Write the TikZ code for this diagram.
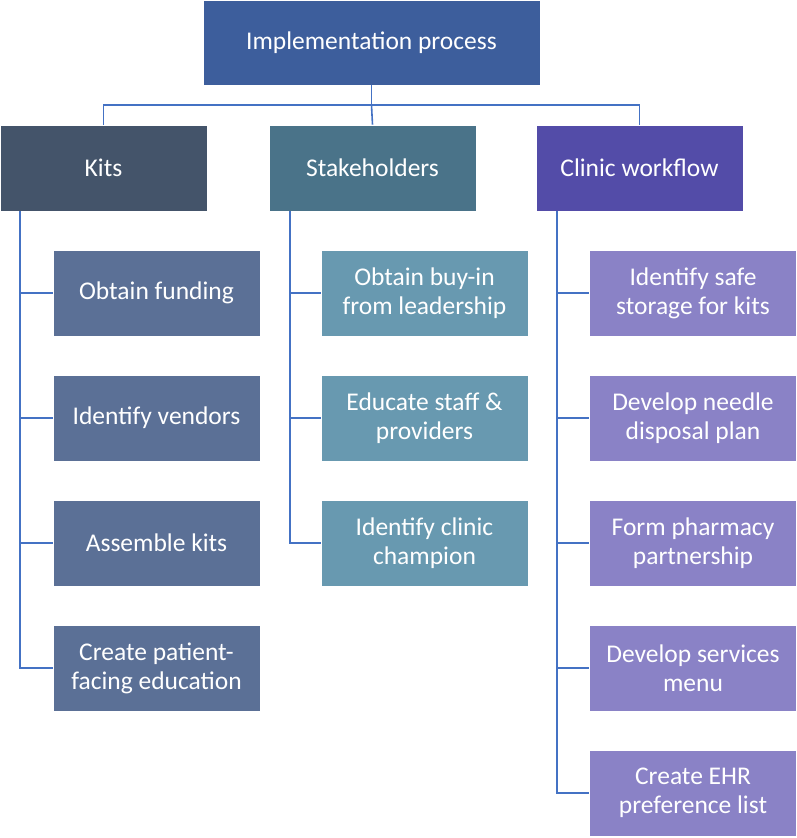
\documentclass[tikz,border=0pt]{standalone}
\usepackage{fontspec}
\setmainfont{Carlito}
\definecolor{topc}{RGB}{61,94,156}
\definecolor{kitc}{RGB}{68,84,106}
\definecolor{stkc}{RGB}{74,115,137}
\definecolor{clic}{RGB}{83,76,168}
\definecolor{kitk}{RGB}{91,112,150}
\definecolor{stkk}{RGB}{104,153,176}
\definecolor{clik}{RGB}{138,130,198}
\definecolor{linec}{RGB}{68,114,196}
\begin{document}
\begin{tikzpicture}[x=1pt,y=-1pt,
  box/.style={minimum width=207pt,minimum height=86pt,inner sep=0pt,text=white,
    align=center,font=\fontsize{25.5}{29}\selectfont,draw=white,line width=0.6pt},
  conn/.style={draw=linec,line width=1.6pt}]
\useasboundingbox (0,0) rectangle (797,838);
\node[box,fill=topc,minimum width=337pt,minimum height=85pt] (top) at (371.5,42.5) {Implementation process};
\node[box,fill=kitc] (kits) at (103.5,168) {Kits};
\node[box,fill=stkc] (stake) at (372.5,168) {Stakeholders};
\node[box,fill=clic] (clin) at (639.5,168) {Clinic workflow};
% kits children
\node[box,fill=kitk] (k1) at (156.5,293) {Obtain funding};
\node[box,fill=kitk] (k2) at (156.5,418) {Identify vendors};
\node[box,fill=kitk] (k3) at (156.5,543) {Assemble kits};
\node[box,fill=kitk] (k4) at (156.5,668) {Create patient-\\facing education};
% stakeholder children
\node[box,fill=stkk] (s1) at (424.5,293) {Obtain buy-in\\from leadership};
\node[box,fill=stkk] (s2) at (424.5,418) {Educate staff \&\\providers};
\node[box,fill=stkk] (s3) at (424.5,543) {Identify clinic\\champion};
% clinic children
\node[box,fill=clik] (c1) at (693,293) {Identify safe\\storage for kits};
\node[box,fill=clik] (c2) at (693,418) {Develop needle\\disposal plan};
\node[box,fill=clik] (c3) at (693,543) {Form pharmacy\\partnership};
\node[box,fill=clik] (c4) at (693,668) {Develop services\\menu};
\node[box,fill=clik] (c5) at (693,793) {Create EHR\\preference list};
% top connectors
\coordinate (tm) at (371.5,105);
\draw[conn] (top.south) -- (tm);
\draw[conn] (kits.north) |- (tm) -| (clin.north);
\draw[conn] (tm) -- (stake.north);
% kits branch
\coordinate (ka) at (20,211);
\draw[conn] (ka) |- (k4.west);
\foreach \n in {k1,k2,k3} \draw[conn] (ka |- \n.west) -- (\n.west);
% stakeholders branch
\coordinate (sa) at (290,211);
\draw[conn] (sa) |- (s3.west);
\foreach \n in {s1,s2} \draw[conn] (sa |- \n.west) -- (\n.west);
% clinic branch
\coordinate (ca) at (557,211);
\draw[conn] (ca) |- (c5.west);
\foreach \n in {c1,c2,c3,c4} \draw[conn] (ca |- \n.west) -- (\n.west);
\end{tikzpicture}
\end{document}
